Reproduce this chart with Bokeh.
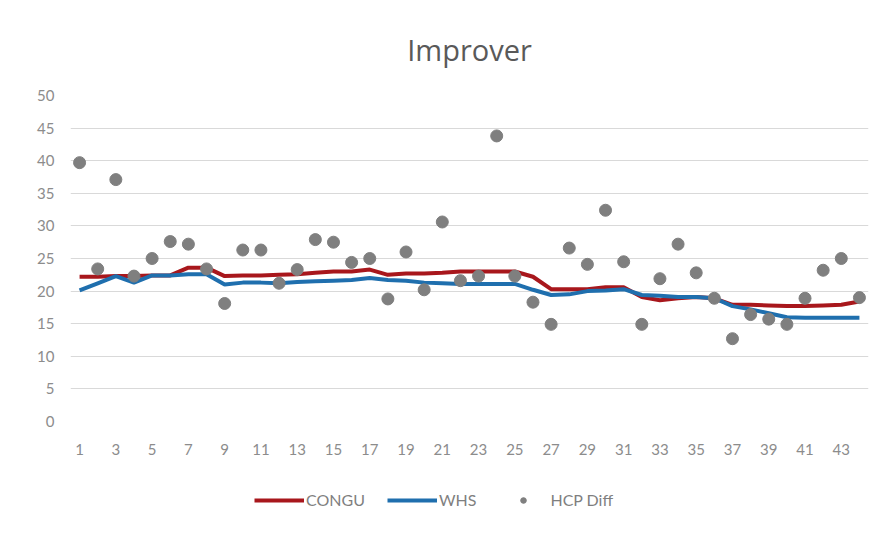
from bokeh.plotting import figure
from bokeh.layouts import column
from bokeh.models import Range1d, FixedTicker, Legend, LegendItem, ColumnDataSource
from bokeh.embed import file_html
from bokeh.resources import INLINE

# ---- data ----
games = list(range(1, 45))
congu = [22.2, 22.2, 22.3, 22.3, 22.4, 22.4, 23.6, 23.6, 22.3, 22.4,
         22.4, 22.5, 22.6, 22.8, 23.0, 23.0, 23.3, 22.5, 22.7, 22.7,
         22.8, 23.0, 23.0, 23.0, 23.0, 22.2, 20.3, 20.3, 20.3, 20.6,
         20.6, 19.1, 18.6, 18.9, 19.1, 18.9, 17.9, 17.9, 17.8, 17.7,
         17.7, 17.8, 17.9, 18.4]
whs = [20.1, 21.2, 22.3, 21.3, 22.4, 22.4, 22.6, 22.6, 21.0, 21.3,
       21.3, 21.2, 21.4, 21.5, 21.6, 21.7, 22.0, 21.7, 21.6, 21.3,
       21.2, 21.1, 21.1, 21.1, 21.1, 20.2, 19.4, 19.5, 20.0, 20.1,
       20.3, 19.4, 19.3, 19.1, 19.1, 18.9, 17.7, 17.2, 16.6, 16.0,
       15.9, 15.9, 15.9, 15.9]
hcp_diff = [39.7, 23.4, 37.1, 22.3, 25.0, 27.6, 27.2, 23.4, 18.1, 26.3,
            26.3, 21.2, 23.3, 27.9, 27.5, 24.4, 25.0, 18.8, 26.0, 20.2,
            30.6, 21.6, 22.3, 43.8, 22.3, 18.3, 14.9, 26.6, 24.1, 32.4,
            24.5, 14.9, 21.9, 27.2, 22.8, 18.9, 12.7, 16.4, 15.7, 14.9,
            18.9, 23.2, 25.0, 19.0]
x_ticks = list(range(1, 44, 2))
y_ticks = list(range(0, 51, 5))

RED = "#a8171c"
BLUE = "#1f6fae"
GREY = "#7f7f7f"

src = ColumnDataSource(dict(x=games, congu=congu, whs=whs, hcp=hcp_diff))

p = figure(frame_width=798, frame_height=326,
           output_backend="svg", toolbar_location=None,
           x_range=Range1d(0.5, 44.5), y_range=Range1d(0, 50),
           title="Improver")
p.min_border_left = 70
p.min_border_right = 12
p.min_border_top = 95
p.min_border_bottom = 0
p.background_fill_color = "white"
p.border_fill_color = "white"
p.outline_line_color = None

p.title.align = "center"
p.title.text_font = "Open Sans"
p.title.text_font_size = "29px"
p.title.text_font_style = "normal"
p.title.text_color = "#595959"
p.title.standoff = 54

p.line("x", "congu", source=src, line_color=RED, line_width=4)
p.line("x", "whs", source=src, line_color=BLUE, line_width=4)
p.scatter("x", "hcp", source=src, size=12, fill_color=GREY, line_color=GREY)

p.xaxis.ticker = FixedTicker(ticks=x_ticks)
p.yaxis.ticker = FixedTicker(ticks=y_ticks)
for ax in (p.xaxis, p.yaxis):
    ax.axis_line_color = None
    ax.major_tick_line_color = None
    ax.minor_tick_line_color = None
    ax.major_tick_out = 0
    ax.major_tick_in = 0
    ax.major_label_text_font = "Lato"
    ax.major_label_text_font_size = "15px"
    ax.major_label_text_color = "#8c8c8c"
p.xaxis.major_label_standoff = 22
p.yaxis.major_label_standoff = 16

p.xgrid.grid_line_color = None
p.ygrid.grid_line_color = "#d9d9d9"
p.ygrid.grid_line_width = 1

# legend strip below the chart (same series, drawn off-view, only the legend shows)
lf = figure(width=880, height=64, output_backend="svg", toolbar_location=None,
            x_range=Range1d(-200, -199), y_range=Range1d(0, 1),
            x_axis_type=None, y_axis_type=None)
lf.min_border_left = 0
lf.min_border_right = 0
lf.min_border_top = 0
lf.min_border_bottom = 0
lf.outline_line_color = None
lf.xgrid.grid_line_color = None
lf.ygrid.grid_line_color = None
lf.background_fill_color = "white"
lf.border_fill_color = "white"
l1 = lf.line("x", "congu", source=src, line_color=RED, line_width=4)
l2 = lf.line("x", "whs", source=src, line_color=BLUE, line_width=4)
l3 = lf.scatter("x", "hcp", source=src, size=12, fill_color=GREY, line_color=GREY)

legend = Legend(items=[LegendItem(label="CONGU", renderers=[l1]),
                       LegendItem(label="WHS", renderers=[l2]),
                       LegendItem(label="HCP Diff", renderers=[l3])],
                orientation="horizontal", location=(184, 12),
                label_text_font="Lato", label_text_font_size="16px",
                label_text_color="#7f7f7f", glyph_width=50, glyph_height=14,
                spacing=22, label_standoff=2, border_line_color=None,
                background_fill_alpha=0, margin=0, padding=10)
lf.add_layout(legend)

layout = column(p, lf, spacing=0)
open("out.html", "w").write(file_html(layout, INLINE))
